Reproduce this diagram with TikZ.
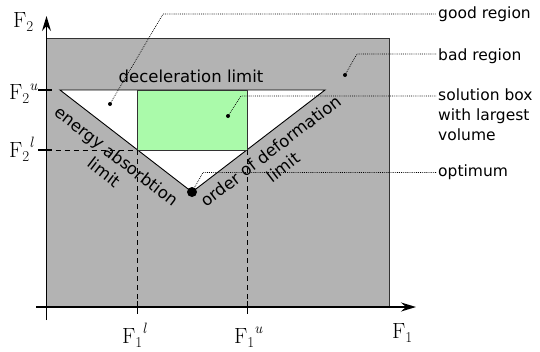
\documentclass[tikz,border=0pt]{standalone}
\usepackage{fontspec}
\newfontfamily\labfont{DejaVu Sans}
\usetikzlibrary{arrows.meta}
\definecolor{badgray}{RGB}{179,179,179}
\definecolor{goodgreen}{RGB}{170,250,170}
\newcommand\Fsym[2]{F\raisebox{-4pt}{\fontsize{15}{15}\selectfont #1}\raisebox{9.5pt}{\fontsize{15}{15}\selectfont\itshape #2}}
\begin{document}
\begin{tikzpicture}[x=1pt,y=-1pt,
  axisline/.style={line width=1.5pt,-{Stealth[length=15pt,width=9pt,inset=5pt]}},
  leader/.style={line width=0.7pt, dash pattern=on 0.8pt off 1.1pt},
  guide/.style={line width=0.8pt, dash pattern=on 5pt off 4pt},
  tickmark/.style={line width=1.2pt},
  sidelabel/.style={font=\labfont\fontsize{15.5}{20}\selectfont, anchor=base west, align=left, inner ysep=0pt, inner xsep=2pt},
  edgelabel/.style={font=\labfont\fontsize{16.5}{20.5}\selectfont, align=center, inner sep=0pt},
  flabel/.style={font=\fontsize{22}{24}\selectfont, inner sep=0pt, anchor=base west},
  smalldot/.style={fill=black},
  ]
\useasboundingbox (0,0) rectangle (540,351);
% regions
\filldraw[fill=badgray, draw=black!80, line width=0.8pt] (46.5,38) rectangle (389,307);
\filldraw[fill=white, draw=black, line width=0.9pt] (60,90) -- (325,90) -- (192,192) -- cycle;
\filldraw[fill=goodgreen, draw=black!80, line width=0.9pt] (137.5,90) rectangle (247.5,150);
% guides
\coordinate (bl) at (137.5,150);
\coordinate (br) at (247.5,150);
\coordinate (yl) at (46.5,150);
\draw[guide] (yl) -- (bl);
\draw[guide] (bl) -- (137.5,307);
\draw[guide] (br) -- (247.5,307);
% ticks
\draw[tickmark] (38,90) -- (52,90);
\draw[tickmark] (38,150) -- (52,150);
\draw[tickmark] (137.5,301) -- (137.5,314);
\draw[tickmark] (247.5,301) -- (247.5,314);
% axes
\coordinate (xs) at (36,307);
\coordinate (xe) at (416,307);
\coordinate (ys) at (46.5,320);
\coordinate (ye) at (46.5,16);
\draw[axisline] (xs) -- (xe);
\draw[axisline] (ys) -- (ye);
% axis labels
\node[flabel] (f2) at (13,27) {\Fsym{2}{}};
\node[flabel] (f2u) at (9,99.5) {\Fsym{2}{u}};
\node[flabel] (f2l) at (9,157) {\Fsym{2}{l}};
\node[flabel] (f1) at (392,338) {\Fsym{1}{}};
\node[flabel] (f1l) at (122,343) {\Fsym{1}{l}};
\node[flabel] (f1u) at (234,343) {\Fsym{1}{u}};
% inner labels
\node[edgelabel, anchor=base] (dec) at (191,82) {deceleration limit};
\node[edgelabel, rotate=-37.7] (ener) at (110.5,164) {energy absorbtion\\limit};
\node[edgelabel, rotate=37.5] (ordr) at (277,159) {order of deformation\\limit};
% side labels
\node[sidelabel] (good) at (436,18.5) {good region};
\node[sidelabel] (bad) at (436,60.5) {bad region};
\node[sidelabel] (sol) at (436,140) {solution box\\with largest\\volume};
\node[sidelabel] (opt) at (436,176.5) {optimum};
% leaders
\coordinate (gd) at (110,104);
\coordinate (gk) at (163,14);
\coordinate (bd) at (345,75);
\coordinate (bk) at (357,54);
\coordinate (sd) at (228,116);
\coordinate (sk) at (241,96);
\coordinate (od) at (192,192);
\coordinate (ok) at (203,172.5);
\draw[leader] (gd) -- (gk) -- (gk -| good.west);
\draw[leader] (bd) -- (bk) -- (bk -| bad.west);
\draw[leader] (sd) -- (sk) -- (sk -| sol.west);
\draw[leader] (od) -- (ok) -- (ok -| opt.west);
\fill[smalldot] (gd) circle (2pt);
\fill[smalldot] (bd) circle (2pt);
\fill[smalldot] (sd) circle (2pt);
\fill[smalldot] (od) circle (5pt);
\end{tikzpicture}
\end{document}
